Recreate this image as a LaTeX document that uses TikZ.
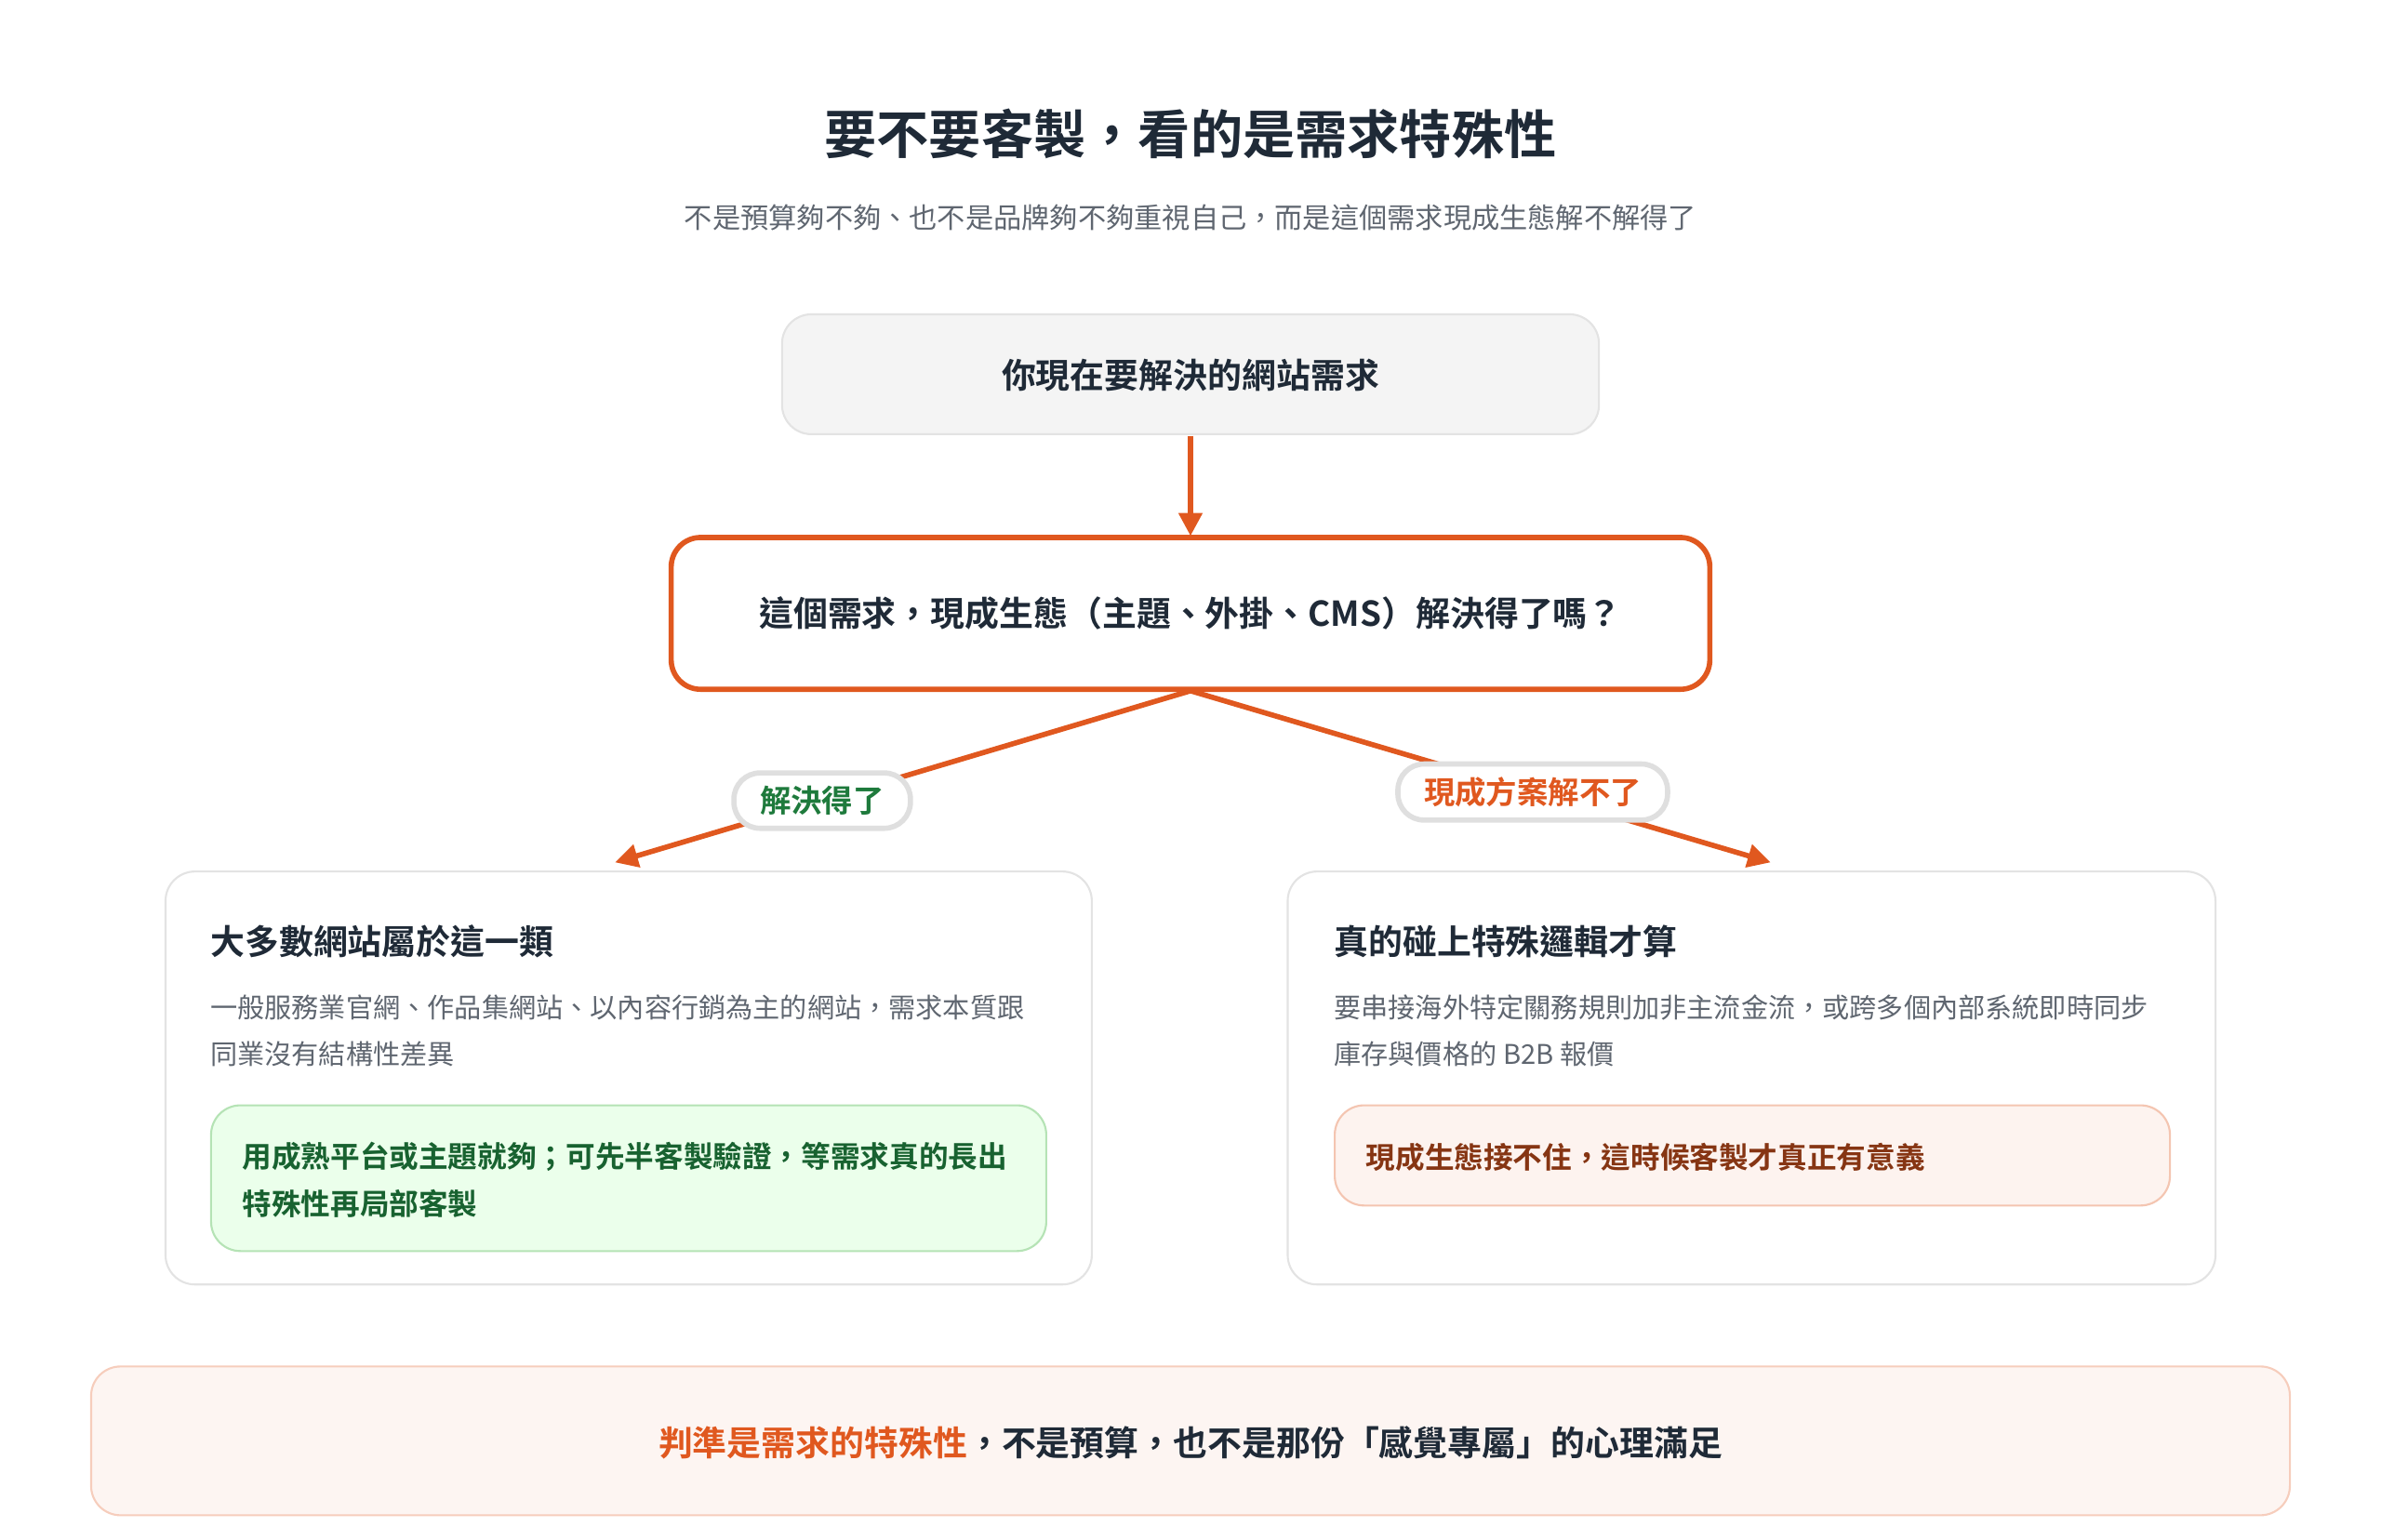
\documentclass[tikz,border=0pt]{standalone}
\usepackage{fontspec}
\setmainfont{Noto Sans CJK TC}[BoldFont={Noto Sans CJK TC Bold}]
\usetikzlibrary{positioning,arrows.meta}
\definecolor{ink}{HTML}{1F2A37}
\definecolor{mute}{HTML}{5F6670}
\definecolor{accent}{HTML}{E0581F}
\definecolor{okgreen}{HTML}{1E7A3C}
\tikzset{
  card/.style={draw=#1, rounded corners=9pt, line width=0.6pt},
  pill/.style={draw=gray!25, fill=white, rounded corners=8pt, inner xsep=8pt, inner ysep=4pt, font=\fontsize{9.5}{11}\selectfont\bfseries},
  flow/.style={draw=accent, line width=1.6pt, -{Triangle[length=7pt,width=7pt]}},
  body/.style={anchor=west, align=left, text=mute, font=\fontsize{8.3}{14.3}\selectfont},
}
\begin{document}
\begin{tikzpicture}[x=0.016327cm, y=-0.016327cm]
\useasboundingbox (0,0) rectangle (1568,1014);
% heading
\node[text=ink, font=\fontsize{16}{18}\selectfont\bfseries] (title) at (784,88) {要不要客製，看的是需求特殊性};
\node[text=mute, font=\fontsize{8.6}{10}\selectfont] (sub) at (784,143) {不是預算夠不夠、也不是品牌夠不夠重視自己，而是這個需求現成生態解不解得了};
% question boxes
\draw[card=gray!22, fill=gray!9] (515,207) rectangle (1053,286);
\node[text=ink, font=\fontsize{10.5}{12}\selectfont\bfseries] (need) at (784,247) {你現在要解決的網站需求};
\draw[card=accent, line width=1.6pt, fill=white] (442,354) rectangle (1126,454);
\node[text=ink, font=\fontsize{10.5}{12}\selectfont\bfseries] (ask) at (784,404) {這個需求，現成生態（主題、外掛、CMS）解決得了嗎？};
\coordinate (split) at (784,455);
\coordinate (need-s) at (784,287);
\coordinate (ask-n) at (784,353);
\coordinate (yes-end) at (405,568);
\coordinate (no-end) at (1166,568);
\draw[flow] (need-s) -- (ask-n);
\draw[flow] (split) -- (yes-end) node[pill, text=okgreen, pos=0.64] (yes) {解決得了};
\draw[flow] (split) -- (no-end) node[pill, text=accent, pos=0.59] (no) {現成方案解不了};
% left card
\draw[card=gray!22, fill=white] (109,574) rectangle (719,846);
\node[anchor=west, text=ink, font=\fontsize{10.5}{12}\selectfont\bfseries] (lhead) at (131,620) {大多數網站屬於這一類};
\node[body] (lbody) at (131,679) {一般服務業官網、作品集網站、以內容行銷為主的網站，需求本質跟\\同業沒有結構性差異};
\draw[card=green!45!gray!40, fill=green!8] (139,728) rectangle (689,824);
\node[anchor=west, align=left, text=okgreen!80!black, font=\fontsize{9}{14.6}\selectfont\bfseries] (ltip) at (152,777) {用成熟平台或主題就夠；可先半客製驗證，等需求真的長出\\特殊性再局部客製};
% right card
\draw[card=gray!22, fill=white] (848,574) rectangle (1459,846);
\node[anchor=west, text=ink, font=\fontsize{10.5}{12}\selectfont\bfseries] (rhead) at (871,620) {真的碰上特殊邏輯才算};
\node[body] (rbody) at (871,679) {要串接海外特定關務規則加非主流金流，或跨多個內部系統即時同步\\庫存與價格的 B2B 報價};
\draw[card=accent!35, fill=accent!7] (879,728) rectangle (1429,794);
\node[anchor=west, text=accent!60!black, font=\fontsize{9}{11}\selectfont\bfseries] (rtip) at (892,762) {現成生態接不住，這時候客製才真正有意義};
% verdict
\draw[card=accent!30, fill=accent!6] (60,900) rectangle (1508,998);
\node[text=ink, font=\fontsize{10.5}{12}\selectfont\bfseries] (verdict) at (784,950) {\textcolor{accent}{判準是需求的特殊性}，不是預算，也不是那份「感覺專屬」的心理滿足};
\end{tikzpicture}
\end{document}
